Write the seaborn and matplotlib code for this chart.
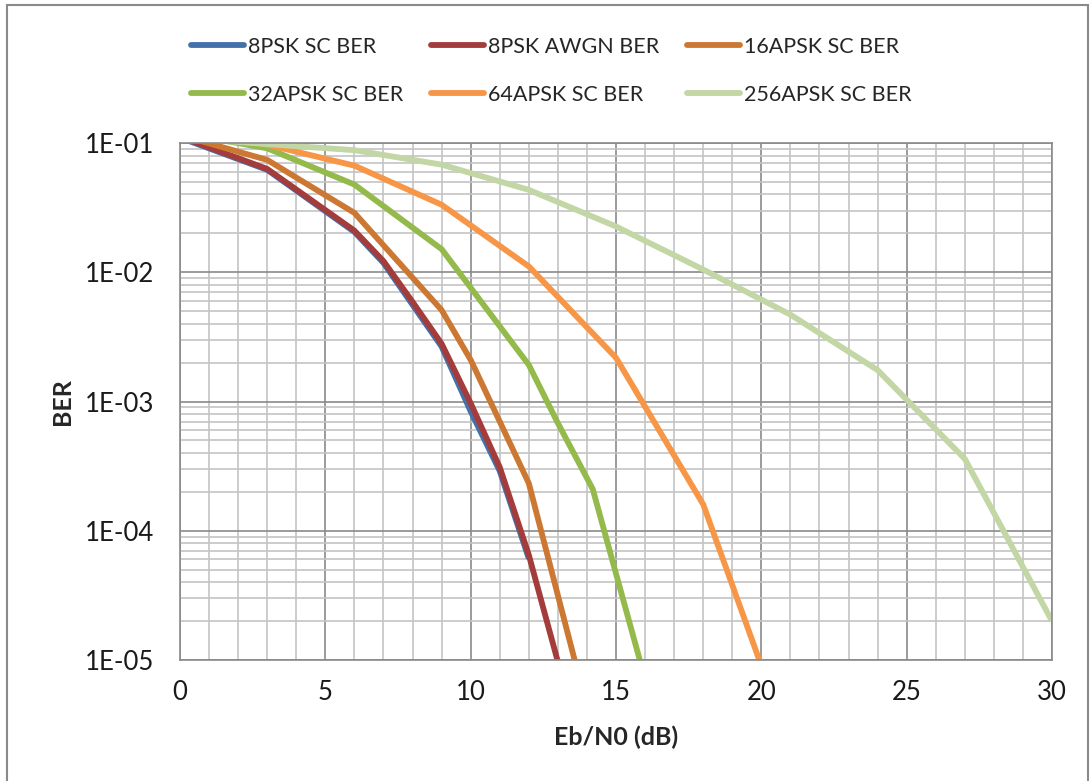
import numpy as np
import pandas as pd
import matplotlib
matplotlib.use("Agg")
import matplotlib.pyplot as plt
import seaborn as sns
from matplotlib.lines import Line2D
from matplotlib.patches import Rectangle
from matplotlib.ticker import MultipleLocator, LogLocator, FuncFormatter, NullFormatter

# BER curves (Eb/N0 in dB)
psk8_sc_x = [0, 3, 6, 7, 8, 9, 10, 11, 12]
psk8_sc_ber = [0.11, 0.062, 0.0205, 0.0118, 0.0056, 0.00266, 8.4e-4, 2.9e-4, 6.1e-5]

psk8_awgn_x = [0, 3, 6, 7, 8, 9, 10, 11, 12, 13]
psk8_awgn_ber = [0.112, 0.063, 0.021, 0.0122, 0.0059, 0.0028, 9.7e-4, 3.1e-4, 6.5e-5, 9.7e-6]

apsk16_x = [0, 3, 6, 9, 10, 11, 12, 14]
apsk16_ber = [0.115, 0.074, 0.0288, 0.0051, 0.0021, 7.0e-4, 2.33e-4, 4.3e-6]

apsk32_x = [0, 3, 6, 9, 12, 13, 14.2, 16]
apsk32_ber = [0.12, 0.091, 0.0477, 0.0151, 1.92e-3, 6.8e-4, 2.1e-4, 7.1e-6]

apsk64_x = [0, 3, 6, 9, 12, 15, 18, 21]
apsk64_ber = [0.13, 0.097, 0.0668, 0.0333, 0.0111, 2.18e-3, 1.6e-4, 2.15e-6]

apsk256_x = [0, 3, 6, 9, 12, 15, 18, 21, 24, 27, 30]
apsk256_ber = [0.11, 0.098, 0.088, 0.068, 0.0434, 0.0226, 0.0105, 4.7e-3, 1.75e-3, 3.6e-4, 2.0e-5]

series_names = ["8PSK SC BER", "8PSK AWGN BER", "16APSK SC BER",
                "32APSK SC BER", "64APSK SC BER", "256APSK SC BER"]
colors = ["#4471AA", "#A33C3B", "#CC7833", "#94BA4B", "#F79646", "#C3D6A5"]

frames = []
for name, xs, ys in zip(series_names,
                        [psk8_sc_x, psk8_awgn_x, apsk16_x, apsk32_x, apsk64_x, apsk256_x],
                        [psk8_sc_ber, psk8_awgn_ber, apsk16_ber, apsk32_ber, apsk64_ber, apsk256_ber]):
    frames.append(pd.DataFrame({"ebn0": xs, "ber": ys, "series": name}))
df = pd.concat(frames, ignore_index=True)

sns.set_style("white")
plt.rcParams["font.family"] = ["Lato", "DejaVu Sans"]

fig = plt.figure(figsize=(10.92, 7.81), dpi=100)
ax = fig.add_axes([180 / 1092, 1 - 660 / 781, (1052 - 180) / 1092, (660 - 143) / 781])

palette = dict(zip(series_names, colors))
sns.lineplot(data=df, x="ebn0", y="ber", hue="series", palette=palette,
             estimator=None, sort=False, linewidth=4.2, legend=False, ax=ax,
             solid_capstyle="butt")

ax.set_yscale("log")
ax.set_xlim(0, 30)
ax.set_ylim(1e-5, 1e-1)

ax.xaxis.set_major_locator(MultipleLocator(5))
ax.xaxis.set_minor_locator(MultipleLocator(1))
ax.yaxis.set_major_locator(LogLocator(base=10, numticks=10))
ax.yaxis.set_minor_locator(LogLocator(base=10, subs=np.arange(2, 10), numticks=20))
ax.yaxis.set_minor_formatter(NullFormatter())
ax.yaxis.set_major_formatter(FuncFormatter(lambda v, _: "1E-%02d" % int(round(-np.log10(v)))))

ax.grid(which="major", color="#8a8a8a", linewidth=1.2)
ax.grid(which="minor", color="#c4c4c4", linewidth=1.2)
ax.set_axisbelow(True)
for sp in ax.spines.values():
    sp.set_color("#8a8a8a")
    sp.set_linewidth(1.2)

ax.tick_params(which="major", direction="out", length=6.5, width=1, color="#8a8a8a",
               labelsize=18.5, labelcolor="#1a1a1a")
ax.tick_params(axis="x", which="major", pad=8)
ax.tick_params(axis="y", which="major", pad=12)
ax.tick_params(which="minor", length=0)

ax.set_xlabel("Eb/N0 (dB)", fontsize=18, fontweight="bold", labelpad=15)
ax.set_ylabel("BER", fontsize=18, fontweight="bold", labelpad=8)

# legend laid out row-wise like the original
order = [0, 3, 1, 4, 2, 5]
handles = [Line2D([], [], color=colors[i], linewidth=4.2) for i in order]
labels = [series_names[i] for i in order]
fig.legend(handles, labels, ncol=3, loc="upper left", bbox_to_anchor=(0.157, 0.978),
           frameon=False, fontsize=15.5, handlelength=2.45, handletextpad=0.2,
           columnspacing=1.3, labelspacing=1.3)

fig.add_artist(Rectangle((7 / 1092, -0.05), (1088 - 7) / 1092, 0.05 + 1 - 5 / 781,
                         transform=fig.transFigure, fill=False,
                         edgecolor="#8a8a8a", linewidth=1.5))

fig.savefig("out.png", dpi=100)
